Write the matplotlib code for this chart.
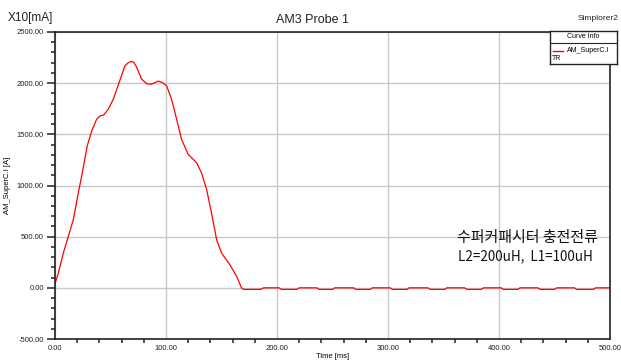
import matplotlib
matplotlib.use('Agg')
import matplotlib.pyplot as plt
from matplotlib.ticker import MultipleLocator, FormatStrFormatter

plt.rcParams['font.family'] = ['Liberation Sans', 'Noto Sans CJK KR', 'DejaVu Sans']

# curve (time in ms, value in X10 mA)
time_ms = [0, 3, 7.5, 12, 16.5, 21, 24, 29, 33, 37.5, 40.5, 44, 48, 52.5, 58.5,
           63, 66, 69, 71, 73.6, 78, 82.6, 87, 93, 97, 100.6, 105, 109.6, 114,
           120, 127.6, 132, 136.6, 141, 145.6, 150, 157.6, 163.7, 168,
           170, 185, 188, 202, 204, 218, 220, 236, 238, 250, 252, 269, 271,
           284, 286, 302, 304, 317, 319, 336, 338, 351, 353, 369, 371, 384,
           386, 402, 404, 417, 419, 435, 437, 450, 452, 468, 470, 485, 487, 500]
current = [40, 144, 340, 503, 667, 928, 1091, 1385, 1532, 1647, 1680, 1690, 1745,
           1843, 2030, 2170, 2200, 2213, 2205, 2154, 2040, 1995, 1990, 2020, 2005,
           1973, 1843, 1647, 1451, 1304, 1222, 1124, 961, 732, 471, 340, 225,
           111, 0,
           -15, -15, 0, 0, -15, -15, 0, 0, -15, -15, 0, 0, -15,
           -15, 0, 0, -15, -15, 0, 0, -15, -15, 0, 0, -15, -15,
           0, 0, -15, -15, 0, 0, -15, -15, 0, 0, -15, -15, 0, 0]

note_title = '수퍼커패시터 충전전류'
note_params = 'L2=200uH,  L1=100uH'

fig = plt.figure(figsize=(6.21, 3.60), dpi=100)
ax = fig.add_axes([55 / 621, 21 / 360, 555 / 621, 307 / 360])

ax.plot(time_ms, current, color='red', lw=0.9)

ax.set_xlim(0, 500)
ax.set_ylim(-500, 2500)
ax.xaxis.set_major_locator(MultipleLocator(100))
ax.xaxis.set_minor_locator(MultipleLocator(20))
ax.yaxis.set_major_locator(MultipleLocator(500))
ax.yaxis.set_minor_locator(MultipleLocator(100))
ax.xaxis.set_major_formatter(FormatStrFormatter('%.2f'))
ax.yaxis.set_major_formatter(FormatStrFormatter('%.2f'))
ax.tick_params(axis='both', which='major', labelsize=5.5, length=6, width=1.2,
               colors='#333333', labelcolor='#222222', pad=2)
ax.tick_params(axis='both', which='minor', length=3, width=1.2, colors='#333333')
ax.tick_params(axis='x', which='major', length=0, pad=4)
ax.grid(True, which='major', color='#c8c8c8', lw=1)
for s in ax.spines.values():
    s.set_color('#222222')
    s.set_linewidth(1.2)

ax.set_xlabel('Time [ms]', fontsize=5.5, labelpad=1)
ax.set_ylabel('AM_SuperC.I [A]', fontsize=5.5, labelpad=4)

fig.text(8 / 621, 1 - 18 / 360, 'X10[mA]', fontsize=8.5, va='center', ha='left', color='#222222')
fig.text(312 / 621, 1 - 20 / 360, 'AM3 Probe 1', fontsize=9, va='center', ha='center', color='#222222')
fig.text(619 / 621, 1 - 19 / 360, 'Simplorer2', fontsize=6, va='center', ha='right', color='#222222')

fig.text(457 / 621, 1 - 238 / 360, note_title, fontsize=10.8, ha='left', va='center',
         family=['Noto Sans CJK KR', 'DejaVu Sans'], color='#111111')
fig.text(458 / 621, 1 - 256 / 360, note_params, fontsize=9.7, ha='left', va='center',
         family=['Noto Sans CJK KR', 'DejaVu Sans'], color='#111111')

# curve info box
lg = fig.add_axes([550 / 621, 1 - 64 / 360, 67 / 621, 33 / 360])
lg.set_xlim(0, 67)
lg.set_ylim(33, 0)
lg.set_xticks([])
lg.set_yticks([])
lg.set_facecolor('white')
for s in lg.spines.values():
    s.set_color('#222222')
    s.set_linewidth(1)
lg.axhline(12, color='#222222', lw=0.8)
lg.text(33.5, 6, 'Curve Info', fontsize=5, ha='center', va='center')
lg.plot([3, 13], [20, 20], color='red', lw=1)
lg.text(17, 19, 'AM_SuperC.I', fontsize=5, ha='left', va='center')
lg.text(2, 27, 'TR', fontsize=5, ha='left', va='center')

fig.savefig('out.png', dpi=100)
